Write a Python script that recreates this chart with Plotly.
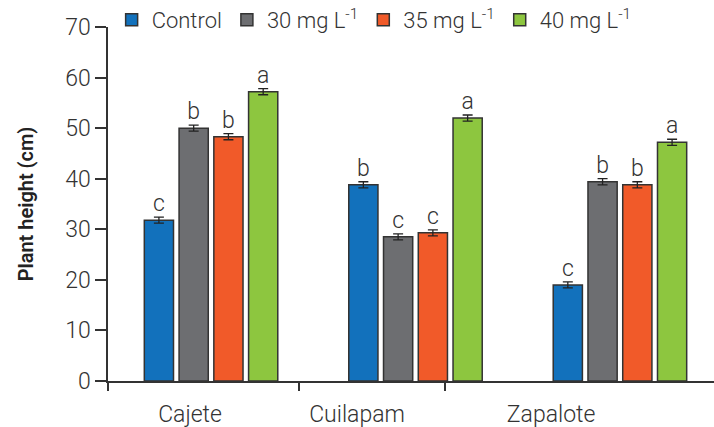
import plotly.graph_objects as go

sites = ["Cajete", "Cuilapam", "Zapalote"]
series = ["Control", "30 mg L<sup>-1</sup>", "35 mg L<sup>-1</sup>", "40 mg L<sup>-1</sup>"]
control = [31.8, 38.8, 19.0]
mg30 = [50.0, 28.5, 39.4]
mg35 = [48.3, 29.3, 38.8]
mg40 = [57.2, 52.0, 47.2]
err_control = [0.6, 0.6, 0.6]
err_30 = [0.6, 0.6, 0.6]
err_35 = [0.6, 0.6, 0.6]
err_40 = [0.6, 0.6, 0.6]
let_control = ["c", "b", "c"]
let_30 = ["b", "c", "b"]
let_35 = ["b", "c", "b"]
let_40 = ["a", "a", "a"]

values = [control, mg30, mg35, mg40]
errors = [err_control, err_30, err_35, err_40]
letters = [let_control, let_30, let_35, let_40]
colors = ["#1271BC", "#6D6E71", "#F15A29", "#8DC63F"]

FONT = "Roboto"
x = list(range(len(sites)))

fig = go.Figure()
for name, v, e, t, c in zip(series, values, errors, letters, colors):
    fig.add_trace(go.Bar(
        x=x, y=v, name=name,
        marker=dict(color=c, line=dict(color="#333333", width=1.5)),
        error_y=dict(type="data", array=e, color="#222222", thickness=1.3, width=5),
        text=t, textposition="outside", cliponaxis=False,
        textfont=dict(family=FONT, size=23, color="#333333", weight=300),
    ))

fig.update_layout(
    width=714, height=427,
    margin=dict(l=108, r=0, t=27, b=46, autoexpand=False),
    plot_bgcolor="white", paper_bgcolor="white",
    barmode="group", bargap=0.32, bargroupgap=0.16,
    font=dict(family=FONT, size=23, color="#333333", weight=300),
    legend=dict(orientation="h", x=0.006, xanchor="left", y=1.02, yanchor="middle",
                font=dict(family=FONT, size=22, color="#333333", weight=300),
                itemwidth=30, tracegroupgap=0, bgcolor="rgba(0,0,0,0)"),
    showlegend=True,
)
fig.update_xaxes(
    range=[-0.504, 2.46], tickmode="array",
    tickvals=[-0.103, 0.714, 1.663], ticktext=sites,
    ticks="", ticklabelstandoff=12, showline=True, linecolor="#333333", linewidth=1.5,
    showgrid=False, zeroline=False, automargin=False,
    tickfont=dict(family=FONT, size=23, color="#333333", weight=300),
    minor=dict(tickmode="array", tickvals=[-0.504, 0.43, 1.144], ticks="outside",
               ticklen=8, tickcolor="#333333", tickwidth=1.5, showgrid=False),
)
fig.update_yaxes(
    range=[0, 70], dtick=10, tick0=0, ticks="outside", ticklen=11, tickwidth=1.5,
    tickcolor="#333333", showline=True, linecolor="#333333", linewidth=1.5,
    showgrid=False, zeroline=False, automargin=False,
    tickfont=dict(family=FONT, size=23, color="#333333", weight=300),
    title=dict(text="Plant height (cm)", standoff=26,
               font=dict(family=FONT, size=20, color="#222222", weight=600)),
)
fig.write_html("out.html", config={"displayModeBar": False},
               post_script="document.body.style.margin='0';")
